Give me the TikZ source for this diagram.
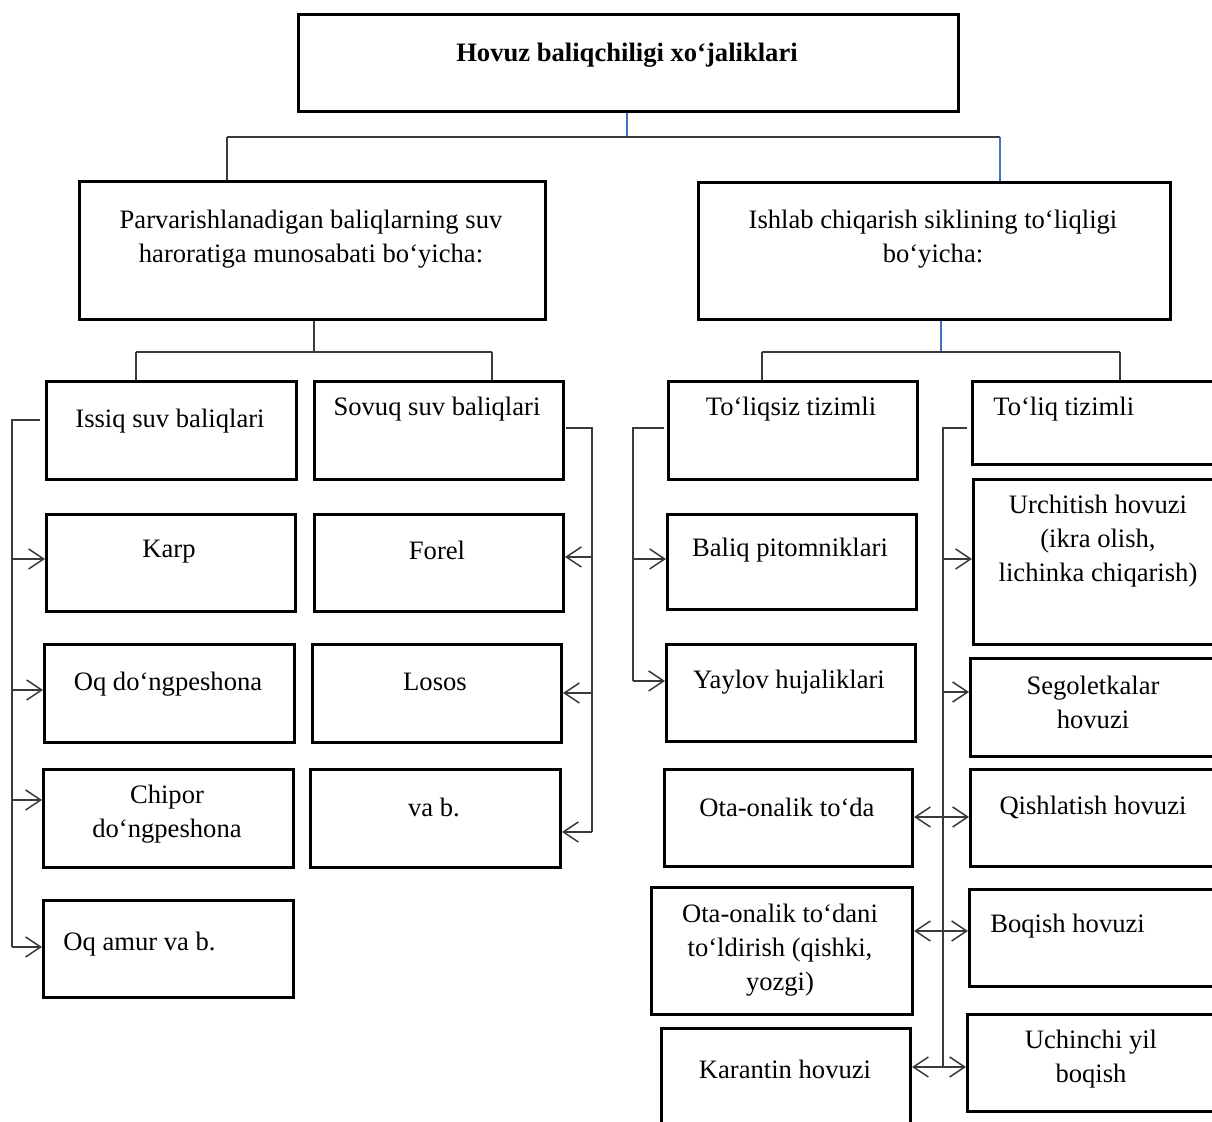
\documentclass[tikz,border=0pt]{standalone}
\usepackage{fontspec}
\setmainfont{Liberation Serif}
\usetikzlibrary{arrows.meta}
\definecolor{bl}{HTML}{4472C4}
\definecolor{ln}{HTML}{3A3A3A}
\tikzset{
 box/.style={draw=black, line width=1.5pt, inner sep=0pt, anchor=north west},
 txt/.style={font=\fontsize{13.3}{17}\selectfont, align=center, inner sep=0pt},
 conn/.style={draw=ln, line width=0.75pt},
 bconn/.style={draw=bl, line width=0.75pt},
 tip/.tip={Straight Barb[length=7.5pt,width=10pt,line width=0.75pt]},
 arr/.style={conn, -tip},
 darr/.style={conn, tip-tip},
}
\newcommand\bx[5]{\node[box, minimum width={(#4-#2)*0.5pt}, minimum height={(#5-#3)*0.5pt}] (#1) at (#2,#3) {};}
\begin{document}
\begin{tikzpicture}[x=0.5pt,y=-0.5pt]
\useasboundingbox (0,0) rectangle (1212,1122);
% boxes
\bx{top}{297}{13}{957}{110}
\bx{L}{78}{180}{544}{318}
\bx{R}{697}{181}{1169}{318}
\bx{issiq}{45}{380}{295}{478}
\bx{sovuq}{313}{380}{562}{478}
\bx{karp}{45}{513}{294}{610}
\bx{forel}{313}{513}{562}{610}
\bx{oqd}{43}{643}{293}{741}
\bx{losos}{311}{643}{560}{741}
\bx{chipor}{42}{768}{292}{866}
\bx{vab}{309}{768}{559}{866}
\bx{oqamur}{42}{899}{292}{996}
\bx{toliqsiz}{667}{380}{916}{478}
\bx{toliq}{971}{380}{1225}{463}
\bx{baliq}{666}{513}{915}{608}
\bx{yaylov}{665}{643}{914}{740}
\bx{urch}{972}{478}{1225}{643}
\bx{segol}{969}{657}{1225}{755}
\bx{otaona}{663}{768}{911}{865}
\bx{qishl}{969}{768}{1225}{865}
\bx{otadani}{650}{886}{911}{1013}
\bx{boqish}{968}{888}{1225}{985}
\bx{karantin}{660}{1027}{909}{1135}
\bx{uchinchi}{966}{1013}{1225}{1110}
% texts
\node[txt] (t-top) at (627,55) {\bfseries Hovuz baliqchiligi xo‘jaliklari};
\node[txt] (t-L) at (311,239) {Parvarishlanadigan baliqlarning suv\\haroratiga munosabati bo‘yicha:};
\node[txt] (t-R) at (933,239) {Ishlab chiqarish siklining to‘liqligi\\bo‘yicha:};
\node[txt] (t-issiq) at (170,421) {Issiq suv baliqlari};
\node[txt] (t-sovuq) at (437,409) {Sovuq suv baliqlari};
\node[txt] (t-karp) at (169,552) {Karp};
\node[txt] (t-forel) at (437,550) {Forel};
\node[txt] (t-oqd) at (168,684) {Oq do‘ngpeshona};
\node[txt] (t-losos) at (435,682) {Losos};
\node[txt] (t-chipor) at (167,814) {Chipor\\do‘ngpeshona};
\node[txt] (t-vab) at (434,807) {va b.};
\node[txt, anchor=west] (t-oqamur) at (63,944) {Oq amur va b.};
\node[txt] (t-toliqsiz) at (791,409) {To‘liqsiz tizimli};
\node[txt, anchor=west] (t-toliq) at (993,409) {To‘liq tizimli};
\node[txt] (t-baliq) at (790,550) {Baliq pitomniklari};
\node[txt] (t-yaylov) at (789,682) {Yaylov hujaliklari};
\node[txt] (t-urch) at (1098,541) {Urchitish hovuzi\\(ikra olish,\\lichinka chiqarish)};
\node[txt] (t-segol) at (1093,702) {Segoletkalar\\hovuzi};
\node[txt] (t-otaona) at (787,807) {Ota-onalik to‘da};
\node[txt] (t-qishl) at (1093,807) {Qishlatish hovuzi};
\node[txt] (t-otadani) at (780,950) {Ota-onalik to‘dani\\to‘ldirish (qishki,\\yozgi)};
\node[txt, anchor=west] (t-boqish) at (990,926) {Boqish hovuzi};
\node[txt] (t-karantin) at (785,1069) {Karantin hovuzi};
\node[txt] (t-uchinchi) at (1091,1059) {Uchinchi yil\\boqish};
% tree connectors
\coordinate (h1) at (627,137);
\coordinate (h1l) at (227,137);
\coordinate (h1r) at (1000,137);
\draw[bconn] (h1 |- top.south) -- (h1);
\draw[conn] (h1l) -- (h1r);
\draw[conn] (h1l) -- (h1l |- L.north);
\draw[bconn] (h1r) -- (h1r |- R.north);
\coordinate (h2) at (314,352);
\coordinate (h2l) at (136,352);
\coordinate (h2r) at (492,352);
\draw[conn] (h2 |- L.south) -- (h2);
\draw[conn] (h2l) -- (h2r);
\draw[conn] (h2l) -- (h2l |- issiq.north);
\draw[conn] (h2r) -- (h2r |- sovuq.north);
\coordinate (h3) at (941,352);
\coordinate (h3l) at (762,352);
\coordinate (h3r) at (1120,352);
\draw[bconn] (h3 |- R.south) -- (h3);
\draw[conn] (h3l) -- (h3r);
\draw[conn] (h3l) -- (h3l |- toliqsiz.north);
\draw[conn] (h3r) -- (h3r |- toliq.north);
% left bracket (Issiq)
\coordinate (a0) at (40,420);
\coordinate (a1) at (12,420);
\coordinate (a2) at (12,559);
\coordinate (a3) at (12,690);
\coordinate (a4) at (12,800);
\coordinate (a5) at (12,947);
\draw[conn] (a0) -- (a1) -- (a5);
\draw[arr] (a2) -- (a2 -| karp.west);
\draw[arr] (a3) -- (a3 -| oqd.west);
\draw[arr] (a4) -- (a4 -| chipor.west);
\draw[arr] (a5) -- (a5 -| oqamur.west);
% Sovuq bracket
\coordinate (b0) at (566,428);
\coordinate (b1) at (592,428);
\coordinate (b2) at (592,557);
\coordinate (b3) at (592,693);
\coordinate (b4) at (592,832);
\draw[conn] (b0) -- (b1) -- (b4);
\draw[arr] (b2) -- (b2 -| forel.east);
\draw[arr] (b3) -- (b3 -| losos.east);
\draw[arr] (b4) -- (b4 -| vab.east);
% To'liqsiz bracket
\coordinate (c0) at (664,428);
\coordinate (c1) at (633,428);
\coordinate (c2) at (633,559);
\coordinate (c3) at (633,681);
\draw[conn] (c0) -- (c1) -- (c3);
\draw[arr] (c2) -- (c2 -| baliq.west);
\draw[arr] (c3) -- (c3 -| yaylov.west);
% To'liq bracket
\coordinate (d0) at (967,428);
\coordinate (d1) at (943,428);
\coordinate (d2) at (943,559);
\coordinate (d3) at (943,692);
\coordinate (d4) at (943,817);
\coordinate (d5) at (943,931);
\coordinate (d6) at (943,1067);
\draw[conn] (d0) -- (d1) -- (d6);
\draw[arr] (d2) -- (d2 -| urch.west);
\draw[arr] (d3) -- (d3 -| segol.west);
\draw[darr] (d4 -| otaona.east) -- (d4 -| qishl.west);
\draw[darr] (d5 -| otadani.east) -- (d5 -| boqish.west);
\draw[darr] (d6 -| karantin.east) -- (d6 -| uchinchi.west);
\end{tikzpicture}
\end{document}
